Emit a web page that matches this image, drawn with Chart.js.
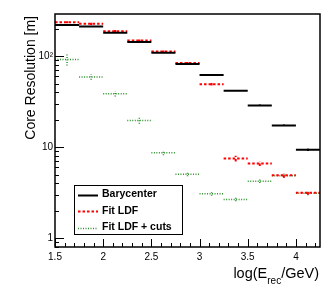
<!DOCTYPE html>
<html lang="en">
<head>
  <meta charset="UTF-8">
  <title>Core Resolution</title>
  <script src="https://cdn.jsdelivr.net/npm/chart.js"></script>
  <style>
    html, body { margin: 0; padding: 0; background: #fff; }
  </style>
</head>
<body>
  <canvas id="chartCanvas" width="332" height="288"></canvas>

  <script>
    // bins in log(E_rec/GeV)
    const binLow  = [1.5, 1.75, 2.0, 2.25, 2.5, 2.75, 3.0, 3.25, 3.5, 3.75, 4.0];
    const binHigh = [1.75, 2.0, 2.25, 2.5, 2.75, 3.0, 3.25, 3.5, 3.75, 4.0, 4.25];

    const barycenter    = [219, 212, 180, 143, 109, 82, 62, 41.6, 28.7, 17.3, 9.35];
    const barycenterErr = [5, 5, 4, 3, 2.5, 2, 1.5, 1, 0.8, 0.5, 0.3];
    const fitLdf        = [235, 226, 188, 148, 112, 84, 49, 7.5, 6.6, 4.9, 3.15];
    const fitLdfErr     = [6, 6, 5, 4, 3, 2, 1.5, 0.55, 0.4, 0.3, 0.15];
    const fitCuts       = [92, 59, 38.5, 19.6, 8.65, 5.05, 3.07, 2.66, 4.23, 4.85, 3.12];
    const fitCutsErr    = [13, 4, 2.5, 1.5, 0.5, 0.25, 0.15, 0.12, 0.2, 0.25, 0.15];

    const xTicks = [1.5, 2, 2.5, 3, 3.5, 4];
    const yTicks = [1, 10, 100];
    const yTickLabels = ['1', '10', '10\u00b2'];

    const FONT = '"Liberation Sans", Arial, Helvetica, sans-serif';

    // horizontal bin lines plus vertical error bars, separated by gaps
    function segments(vals, errs) {
      const pts = [];
      for (let i = 0; i < vals.length; i++) {
        const c = (binLow[i] + binHigh[i]) / 2;
        pts.push({ x: binLow[i], y: vals[i] }, { x: binHigh[i], y: vals[i] }, { x: c, y: null });
        pts.push({ x: c, y: vals[i] - errs[i] }, { x: c, y: vals[i] + errs[i] }, { x: c, y: null });
      }
      return pts;
    }

    const series = [
      { label: 'Barycenter', data: segments(barycenter, barycenterErr), color: '#000000', width: 2, dash: [] },
      { label: 'Fit LDF', data: segments(fitLdf, fitLdfErr), color: '#ff0000', width: 2, dash: [2.5, 2] },
      { label: 'Fit LDF + cuts', data: segments(fitCuts, fitCutsErr), color: '#2a922a', width: 1.5, dash: [1, 1.5] }
    ];

    // inward ticks, frame, titles and legend
    const rootStyle = {
      id: 'rootStyle',
      afterDraw(chart) {
        const ctx = chart.ctx;
        const a = chart.chartArea;
        const xs = chart.scales.x, ys = chart.scales.y;
        ctx.save();
        ctx.strokeStyle = '#000';
        ctx.lineWidth = 1;
        ctx.setLineDash([]);

        // x ticks
        for (let k = 0; k <= 27; k++) {
          const v = 1.5 + k * 0.1;
          const px = Math.round(xs.getPixelForValue(v)) + 0.5;
          const len = (k % 5 === 0) ? 8 : 4;
          ctx.beginPath();
          ctx.moveTo(px, a.bottom);
          ctx.lineTo(px, a.bottom - len);
          ctx.stroke();
        }
        // y ticks (log)
        for (let d = 0.1; d <= 100; d *= 10) {
          for (let m = 1; m <= 9; m++) {
            const v = m * d;
            if (v < ys.min || v > ys.max) continue;
            const py = Math.round(ys.getPixelForValue(v)) + 0.5;
            const len = (m === 1) ? 9 : 4;
            ctx.beginPath();
            ctx.moveTo(a.left, py);
            ctx.lineTo(a.left + len, py);
            ctx.stroke();
          }
        }

        // frame
        ctx.lineWidth = 1.5;
        ctx.strokeRect(a.left, a.top, a.right - a.left, a.bottom - a.top);

        // y title
        ctx.fillStyle = '#000';
        ctx.font = '14px ' + FONT;
        ctx.save();
        ctx.translate(31, a.top + 2);
        ctx.rotate(-Math.PI / 2);
        ctx.textAlign = 'right';
        ctx.textBaseline = 'middle';
        ctx.fillText('Core Resolution [m]', 0, 0);
        ctx.restore();

        // x title with subscript
        const big = '14.5px ' + FONT, small = '10px ' + FONT;
        ctx.textBaseline = 'alphabetic';
        ctx.textAlign = 'left';
        ctx.font = big;
        const w1 = ctx.measureText('log(E').width;
        const w3 = ctx.measureText('/GeV)').width;
        ctx.font = small;
        const w2 = ctx.measureText('rec').width;
        let x0 = a.right - 1 - (w1 + w2 + w3);
        const base = 278;
        ctx.font = big;
        ctx.fillText('log(E', x0, base);
        ctx.font = small;
        ctx.fillText('rec', x0 + w1, base + 6);
        ctx.font = big;
        ctx.fillText('/GeV)', x0 + w1 + w2, base);

        // legend
        const lx = 74, ly = 185, lw = 108, lh = 49;
        ctx.fillStyle = '#fff';
        ctx.fillRect(lx, ly, lw, lh);
        ctx.lineWidth = 1;
        ctx.strokeStyle = '#000';
        ctx.strokeRect(lx + 0.5, ly + 0.5, lw, lh);
        ctx.font = 'bold 10.5px ' + FONT;
        ctx.textBaseline = 'middle';
        chart.data.datasets.forEach((ds, i) => {
          const yy = ly + 9.5 + i * 16.5;
          ctx.strokeStyle = ds.borderColor;
          ctx.lineWidth = ds.borderWidth;
          ctx.setLineDash(ds.borderDash);
          ctx.beginPath();
          ctx.moveTo(lx + 4, Math.round(yy) + 0.5);
          ctx.lineTo(lx + 24, Math.round(yy) + 0.5);
          ctx.stroke();
          ctx.setLineDash([]);
          ctx.fillStyle = '#000';
          ctx.fillText(ds.label, lx + 28, yy);
        });
        ctx.restore();
      }
    };

    const ctx = document.getElementById('chartCanvas').getContext('2d');
    new Chart(ctx, {
      type: 'scatter',
      data: {
        datasets: series.map(s => ({
          label: s.label,
          data: s.data,
          showLine: true,
          spanGaps: false,
          borderColor: s.color,
          borderWidth: s.width,
          borderDash: s.dash,
          pointRadius: 0,
          pointHoverRadius: 0,
          fill: false,
          tension: 0
        }))
      },
      options: {
        responsive: false,
        animation: false,
        devicePixelRatio: 1,
        layout: { padding: { top: 14, right: 12, left: 0, bottom: 0 } },
        plugins: { legend: { display: false }, tooltip: { enabled: false } },
        scales: {
          x: {
            type: 'linear',
            min: 1.5,
            max: 4.25,
            grid: { display: false, drawTicks: false },
            border: { display: false },
            afterBuildTicks: (scale) => { scale.ticks = xTicks.map(v => ({ value: v })); },
            afterFit: (scale) => { scale.height = 41; },
            ticks: {
              padding: 4,
              color: '#000',
              maxRotation: 0,
              autoSkip: false,
              font: { family: FONT, size: 10 },
              callback: (v) => String(v)
            }
          },
          y: {
            type: 'logarithmic',
            min: 0.8,
            max: 290,
            grid: { display: false, drawTicks: false },
            border: { display: false },
            afterBuildTicks: (scale) => { scale.ticks = yTicks.map(v => ({ value: v })); },
            afterFit: (scale) => { scale.width = 55; },
            ticks: {
              padding: 2,
              color: '#000',
              autoSkip: false,
              font: { family: FONT, size: 10 },
              callback: (v) => {
                const i = yTicks.indexOf(v);
                return i >= 0 ? yTickLabels[i] : '';
              }
            }
          }
        }
      },
      plugins: [rootStyle]
    });
  </script>
</body>
</html>
